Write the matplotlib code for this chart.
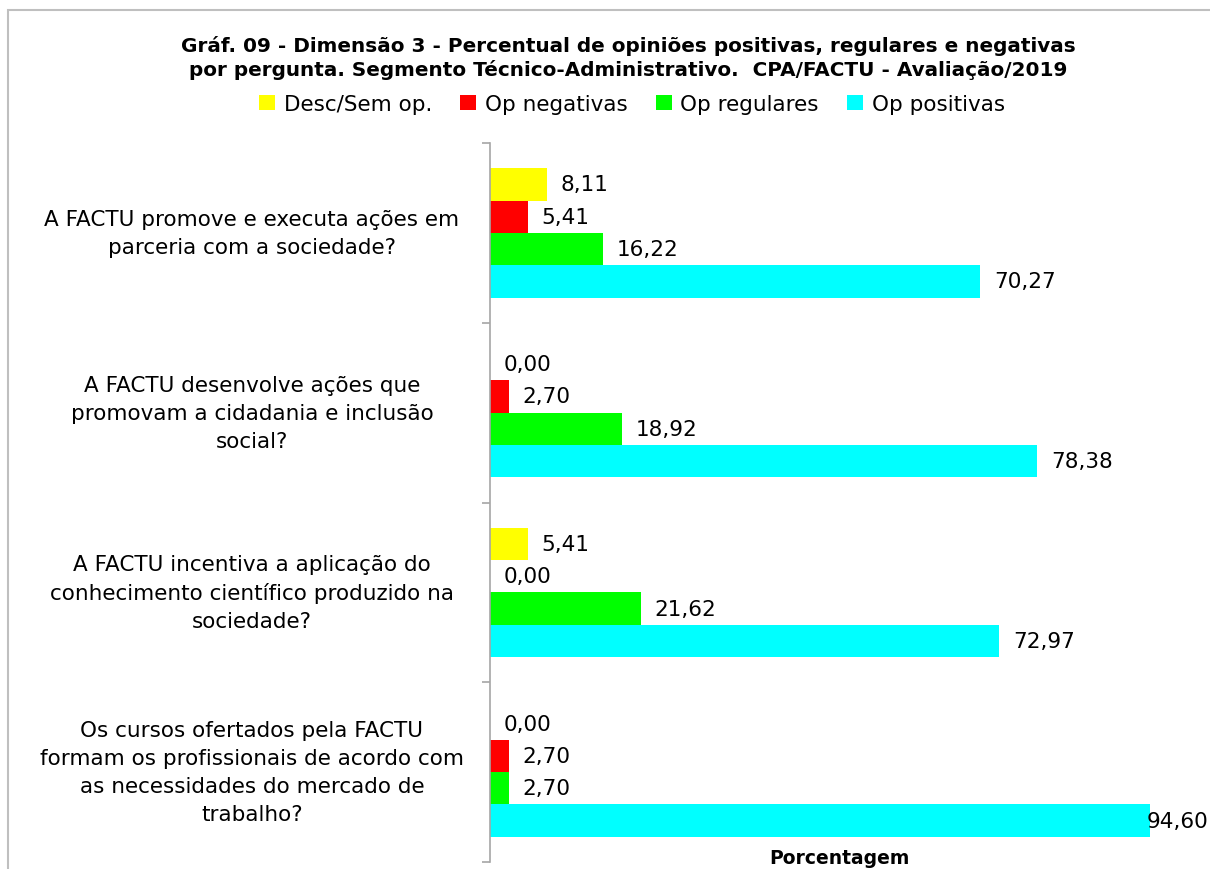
import matplotlib
matplotlib.use('Agg')
import matplotlib.pyplot as plt
import matplotlib.transforms as mtransforms
from matplotlib.patches import Rectangle
import numpy as np

questions = [
    'A FACTU promove e executa ações em\nparceria com a sociedade?',
    'A FACTU desenvolve ações que\npromovam a cidadania e inclusão\nsocial?',
    'A FACTU incentiva a aplicação do\nconhecimento científico produzido na\nsociedade?',
    'Os cursos ofertados pela FACTU\nformam os profissionais de acordo com\nas necessidades do mercado de\ntrabalho?',
]
series_names = ['Desc/Sem op.', 'Op negativas', 'Op regulares', 'Op positivas']
series_colors = ['#FFFF00', '#FF0000', '#00FF00', '#00FFFF']
desc_sem_op = [8.11, 0.00, 5.41, 0.00]
op_negativas = [5.41, 2.70, 0.00, 2.70]
op_regulares = [16.22, 18.92, 21.62, 2.70]
op_positivas = [70.27, 78.38, 72.97, 94.60]
series_values = [desc_sem_op, op_negativas, op_regulares, op_positivas]

title = ('Gráf. 09 - Dimensão 3 - Percentual de opiniões positivas, regulares e negativas\n'
         'por pergunta. Segmento Técnico-Administrativo.  CPA/FACTU - Avaliação/2019')

W, H = 1210, 870
fig = plt.figure(figsize=(W / 100, H / 100), dpi=100)
ax = fig.add_axes([490 / W, 1 - 863 / H, (1188 - 490) / W, (863 - 144) / H])

y = np.arange(len(questions))
bar_h = 0.18
offsets = (np.arange(len(series_names)) - 1.5) * bar_h

for vals, name, color, off in zip(series_values, series_names, series_colors, offsets):
    bars = ax.barh(y + off, vals, height=bar_h, color=color, label=name, edgecolor='none')
    for b, v in zip(bars, vals):
        # Excel pulls the label back inside the chart when it would overflow
        dx = -3 if v > 90 else 10
        ax.annotate(f'{v:.2f}'.replace('.', ','),
                    (b.get_width(), b.get_y() + b.get_height() / 2),
                    xytext=(dx, 0), textcoords='offset points',
                    ha='left', va='center', fontsize=15.5, color='black')

ax.set_xlim(0, 100)
ax.set_ylim(len(questions) - 0.5, -0.5)
ax.set_xticks([])
ax.set_yticks(np.arange(len(questions) + 1) - 0.5)
ax.set_yticklabels([])
ax.tick_params(axis='y', direction='out', length=6, width=1.2, color='#A6A6A6')
for s in ['top', 'right', 'bottom']:
    ax.spines[s].set_visible(False)
ax.spines['left'].set_color('#A6A6A6')
ax.spines['left'].set_linewidth(1.2)

# category labels, centered block left of the axis
trans = mtransforms.blended_transform_factory(fig.transFigure, ax.transData)
for yi, q in zip(y, questions):
    ax.text(252 / W, yi, q, transform=trans, ha='center', va='center',
            multialignment='center', fontsize=15.5, linespacing=1.5, color='black')

fig.text(628 / W, 1 - 58 / H, title, ha='center', va='center', fontsize=14.4,
         fontweight='bold', linespacing=1.2)

fig.legend(loc='center', bbox_to_anchor=(632 / W, 1 - 105 / H), ncol=4, frameon=False,
           fontsize=15.5, handlelength=0.75, handleheight=0.75, handletextpad=0.4,
           columnspacing=1.3)

fig.text(839 / W, 1 - 859 / H, 'Porcentagem', ha='center', va='center',
         fontsize=13.5, fontweight='bold')

# chart area border (only top/left fall inside the picture)
fig.patches.append(Rectangle((8 / W, -0.05), 1.1, 1 - 11 / H + 0.05, transform=fig.transFigure,
                             fill=False, edgecolor='#BFBFBF', linewidth=1.5))

fig.savefig('out.png', dpi=100)
